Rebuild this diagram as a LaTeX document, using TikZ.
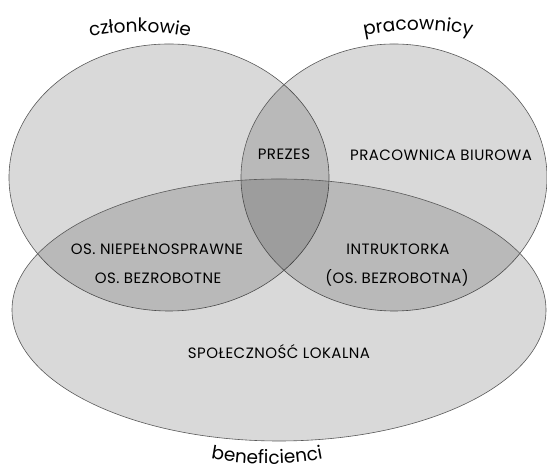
\documentclass[tikz,border=0pt]{standalone}
\usepackage{fontspec}
\setmainfont{Poppins}
\newfontfamily\labfont[LetterSpace=3]{Poppins}
\usetikzlibrary{shapes.geometric,decorations.text}
\begin{document}
\begin{tikzpicture}[x=1pt,y=1pt,
  setbox/.style={ellipse, draw=black!65, line width=0.6pt, fill=black, fill opacity=0.15, text opacity=1, inner sep=0pt, outer sep=0pt},
  lab/.style={font=\labfont\fontsize{15}{18}\selectfont, text=black, inner sep=0pt},
  title/.style={decorate, decoration={text along path, text align=center, text={|\fontsize{18.5}{22}\selectfont|#1}}}]
\useasboundingbox (0,0) rectangle (547,470);
% sets
\node[setbox, minimum width=320pt, minimum height=267pt] (czl) at (169,292.5) {};
\node[setbox, minimum width=306pt, minimum height=267pt] (prac) at (394,292.5) {};
\node[setbox, minimum width=534pt, minimum height=262pt] (ben) at (279,160) {};
% curved titles
\path[title=członkowie] (140,178) ++(105:260) arc[start angle=105, end angle=75, radius=260];
\path[title=pracownicy] (418,180) ++(105:260) arc[start angle=105, end angle=75, radius=260];
\path[title=beneficienci] (267,306) ++(255:300) arc[start angle=255, end angle=285, radius=300];
% labels
\node[lab] (prezes) at (284,316) {PREZES};
\node[lab] (biuro) at (441,315) {PRACOWNICA BIUROWA};
\node[lab] (niep) at (157,221) {OS. NIEPEŁNOSPRAWNE};
\node[lab] (bezr) at (158,192) {OS. BEZROBOTNE};
\node[lab] (instr) at (398,221) {INTRUKTORKA};
\node[lab] (bezra) at (397,192) {(OS. BEZROBOTNA)};
\node[lab] (spol) at (279,118) {SPOŁECZNOŚĆ LOKALNA};
\end{tikzpicture}
\end{document}
